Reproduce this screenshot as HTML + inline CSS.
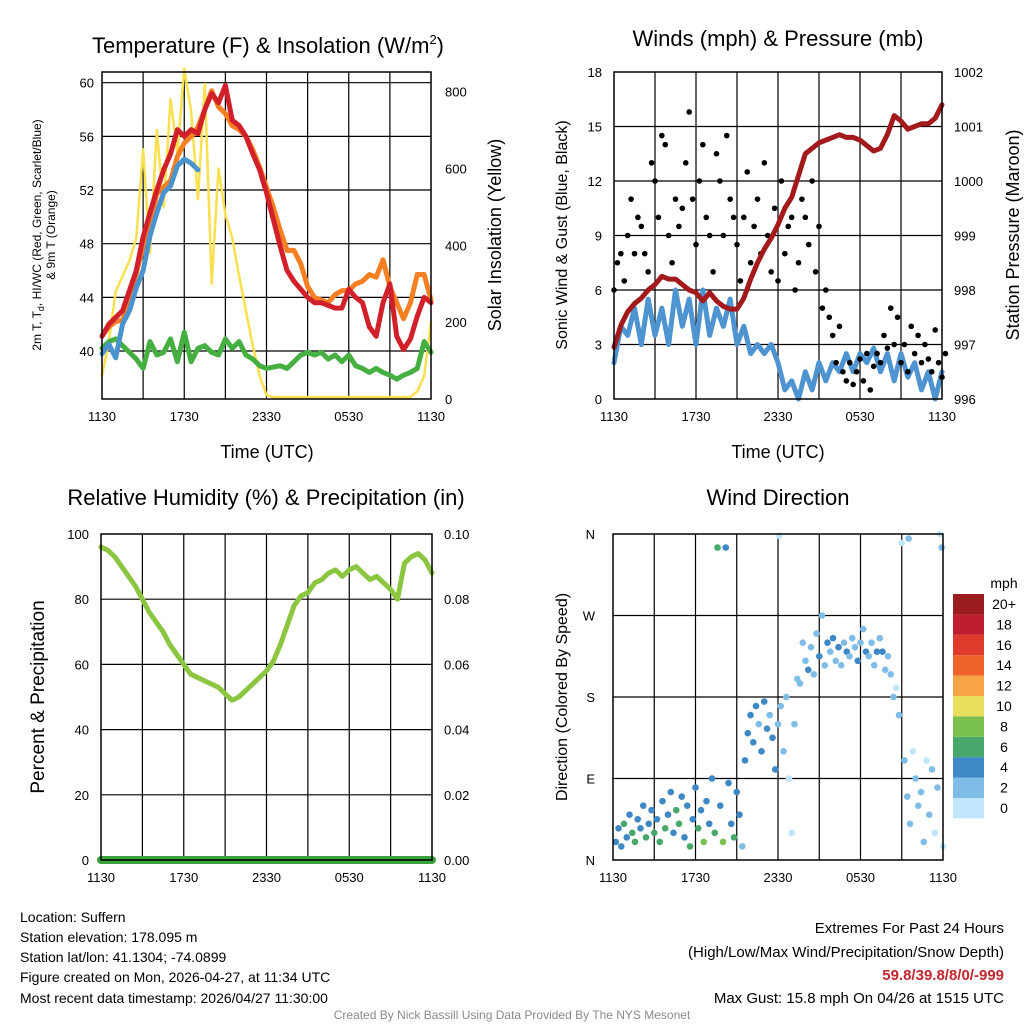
<!DOCTYPE html>
<html><head><meta charset="utf-8"><style>
body{margin:0;background:#fff}
svg{display:block;font-family:"Liberation Sans",sans-serif}
</style></head><body>
<svg id="c" width="1024" height="1024" viewBox="0 0 1024 1024">
<g font-size="22" text-anchor="middle" fill="#000">
<text x="268" y="53">Temperature (F) &amp; Insolation (W/m<tspan font-size="13" dy="-9">2</tspan><tspan dy="9">)</tspan></text>
<text x="778" y="46">Winds (mph) &amp; Pressure (mb)</text>
<text x="266" y="505">Relative Humidity (%) &amp; Precipitation (in)</text>
<text x="778" y="505">Wind Direction</text>
</g>
<g font-size="18" text-anchor="middle">
<text x="267" y="458">Time (UTC)</text>
<text x="778" y="458">Time (UTC)</text>
<text transform="translate(501,235) rotate(-90)">Solar Insolation (Yellow)</text>
<text transform="translate(1019,235) rotate(-90)">Station Pressure (Maroon)</text>
<text transform="translate(44,697) rotate(-90)" font-size="19">Percent &amp; Precipitation</text>
<text transform="translate(567,235) rotate(-90)" font-size="16">Sonic Wind &amp; Gust (Blue, Black)</text>
<text transform="translate(567,697) rotate(-90)" font-size="16">Direction (Colored By Speed)</text>
</g>
<g font-size="12" text-anchor="middle">
<text transform="translate(41,235) rotate(-90)">2m T, T<tspan font-size="9" dy="3">d</tspan><tspan dy="-3">, HI/WC (Red, Green, Scarlet/Blue)</tspan></text>
<text transform="translate(55,235) rotate(-90)">&amp; 9m T (Orange)</text>
</g>
<g font-size="14" fill="#000">
<text x="20" y="922">Location: Suffern</text>
<text x="20" y="942">Station elevation: 178.095 m</text>
<text x="20" y="962">Station lat/lon: 41.1304; -74.0899</text>
<text x="20" y="982">Figure created on Mon, 2026-04-27, at 11:34 UTC</text>
<text x="20" y="1003">Most recent data timestamp: 2026/04/27 11:30:00</text>
</g>
<g font-size="15" text-anchor="end">
<text x="1004" y="933">Extremes For Past 24 Hours</text>
<text x="1004" y="957">(High/Low/Max Wind/Precipitation/Snow Depth)</text>
<text x="1004" y="980" fill="#c1272d" font-weight="bold">59.8/39.8/8/0/-999</text>
<text x="1004" y="1003">Max Gust: 15.8 mph On 04/26 at 1515 UTC</text>
</g>
<text x="512" y="1019" font-size="12" fill="#8a8a8a" text-anchor="middle">Created By Nick Bassill Using Data Provided By The NYS Mesonet</text>
</svg>
<script>
const xTickLabels=["1130","1730","2330","0530","1130"];
const tempT=[41.1,42,42.5,43,44.5,46,48.5,50.3,52,53.5,54.7,56.5,56,56.5,56.2,58,59.2,58.5,59.8,57.2,56.8,56,54.7,53.5,51.8,49.8,47.8,46,45.2,44.6,44,43.6,43.6,43.4,43.2,43.2,44.6,44,43.6,41.8,41.1,43.6,45,41.1,40.1,40.9,42.6,44,43.6];
const temp9m=[41.1,41.8,42.2,42.3,43.5,45.8,47.8,49.5,51.7,52.2,52.7,54.5,55.5,56,56.7,58,59.4,58.2,57.7,56.8,56.5,56,55,53.7,52.2,50.7,49,47.5,47.5,46.5,44.8,44,43.8,43.6,44.2,44.5,44.5,45,45.2,45.7,45.5,46.8,44.8,43.6,42.4,43.6,45.7,45.7,43.8];
const tempHI=[39.8,40.5,39.5,42,43,44.7,46,48.6,50.3,51.8,52.3,53.8,54.3,54,53.5];
const tempTd=[40.2,40.7,40.9,40.4,39.9,39.4,38.7,40.7,39.7,39.9,40.9,39.2,41.4,39.2,40.2,40.4,39.9,39.7,40.9,40.2,40.7,39.7,39.4,38.9,38.7,38.8,38.9,38.7,39.2,39.7,39.9,39.7,39.9,39.4,39.7,39.2,39.7,38.9,38.7,38.4,38.7,38.4,38.2,37.9,38.2,38.4,38.7,40.7,39.9];
const solar=[60,150,280,320,360,420,650,380,700,500,780,640,860,750,520,820,300,600,480,420,320,230,140,60,10,5,5,5,5,5,5,5,5,5,5,5,5,5,5,5,5,5,5,5,5,5,20,60,200];
const wind=[2,4,3.5,5,3,5.5,3.5,5,3,6,4,5.5,3,6,3.5,5,4,5.5,3,4,2.5,3,2.5,3,2,0.5,1,0,1.5,0.5,2,1,2,1.5,2.5,1.5,2.5,2,2.8,1.5,2.5,1,2.5,1.2,2,0.5,1.5,0,1.5];
const pressure=[996.95,997.35,997.6,997.75,997.85,998,998.1,998.25,998.2,998.2,998.1,998,997.95,997.8,997.95,997.8,997.7,997.65,997.65,997.85,998.2,998.5,998.75,998.95,999.2,999.5,999.7,1000.1,1000.5,1000.6,1000.7,1000.75,1000.8,1000.85,1000.8,1000.8,1000.75,1000.65,1000.55,1000.6,1000.85,1001.2,1001.1,1000.95,1001,1001.05,1001.05,1001.15,1001.4];
const gust=[6,7.5,8,6.5,9,11,8,10,9.5,8,7,13,12,10,14.5,14,9,7.5,11,9.5,10.5,13,15.8,11,8.5,12,14,10,9,7,13.5,12,9,14.5,11,10,8.5,6.5,10,12.5,7.5,9.5,11,8,13,9,7,10.5,6.5,12,8,9.5,10,6,7.5,11,10,8.5,12,7,9.5,5,6,4.5,3.5,2,4,1.5,1,2,0.8,1.5,2.2,1,2.5,0.5,1.8,2.5,2,3.5,2.8,5,3,4.5,2,3,1.5,4,2.5,3.5,2,3,2.2,1.5,3.8,2,1.2,2.5];
const rh=[96,95,93,90,87,84,80,76,73,70,66,63,60,57,56,55,54,53,51,49,50,52,54,56,58,61,66,72,78,81,82,85,86,88,89,87,89,90,88,86,87,85,83,80,91,93,94,92,88];
const precip=new Array(49).fill(0);
const dirHour=[0.2,0.4,0.6,0.8,1,1.2,1.4,1.6,1.8,2,2.2,2.4,2.6,2.8,3,3.2,3.4,3.6,3.8,4,4.2,4.4,4.6,4.8,5,5.2,5.4,5.6,5.8,6,6.2,6.4,6.6,6.8,7,7.2,7.4,7.6,7.8,8,8.2,8.4,8.6,8.8,9,9.2,9.4,9.6,9.8,10,10.2,10.4,10.6,10.8,11,11.2,11.4,11.6,11.8,12,12.2,12.4,12.6,12.8,13,13.2,13.4,13.6,13.8,14,14.2,14.4,14.6,14.8,15,15.2,15.4,15.6,15.8,16,16.2,16.4,16.6,16.8,17,17.2,17.4,17.6,17.8,18,18.2,18.4,18.6,18.8,19,19.2,19.4,19.6,19.8,20,20.2,20.4,20.6,20.8,21,21.2,21.4,21.6,21.8,22,22.2,22.4,22.6,22.8,23,23.2,23.4,23.6,23.8,24,12.1,21.5,23.9];
const dirDeg=[20,35,15,40,25,50,30,20,45,35,60,25,40,55,30,45,20,65,35,50,75,30,55,40,70,25,60,15,45,80,35,55,20,65,40,90,30,345,60,20,345,85,40,25,75,50,15,110,140,160,130,170,150,120,175,145,160,135,100,150,170,120,180,90,30,150,200,195,240,220,210,235,205,250,225,270,215,240,230,245,220,235,215,240,230,225,245,235,220,240,255,230,225,240,215,230,245,230,210,225,205,180,190,160,350,110,70,40,120,90,60,75,20,110,50,100,30,80,360,15,358,355,345];
const dirSpeed=[4,4,3,5,3,4,6,6,4,3,4,5,4,3,6,4,5,3,6,4,3,4,5,6,4,3,4,6,3,4,5,3,7,4,4,3,5,6,4,7,4,3,4,6,3,4,2,4,3,4,3,4,2,4,3,4,2,4,3,1,2,1,2,0,0,1,2,1,2,1,3,2,1,2,3,1,2,3,2,3,2,3,2,1,3,2,1,2,3,2,2,3,2,1,2,3,2,3,2,2,1,1,0,1,0,1,1,2,0,1,2,1,1,0,2,1,0,1,0,0,0,1,1];
const cbLabels=["0","2","4","6","8","10","12","14","16","18","20+"];
const cbColors=["#bfe6fb","#80bde6","#3d88c5","#48a86b","#79c04f","#e8e05c","#f7a546","#f0632a","#e03a2c","#be1e2d","#9b1c1f"];
const NS="http://www.w3.org/2000/svg";
const svg=document.getElementById('c');
function mk(tag,attrs,parent){const e=document.createElementNS(NS,tag);for(const k in attrs)e.setAttribute(k,attrs[k]);(parent||svg).appendChild(e);return e;}
function lin(d0,d1,r0,r1){return v=>r0+(v-d0)/(d1-d0)*(r1-r0);}
function txt(x,y,s,anchor,size,parent){const t=mk('text',{x:x,y:y,'text-anchor':anchor,'font-size':size},parent);t.textContent=s;return t;}
function panel(name,x0,x1,y0,y1,hLines){
  const g=mk('g',{});
  
  
  for(let i=1;i<8;i++){const x=x0+(x1-x0)*i/8;mk('line',{x1:x,x2:x,y1:y0,y2:y1,stroke:'#000','stroke-width':1.2},g);}
  hLines.forEach(y=>mk('line',{x1:x0,x2:x1,y1:y,y2:y,stroke:'#000','stroke-width':1.2},g));
  const lab=mk('g',{});
  
  
  xTickLabels.forEach((s,i)=>txt(x0+(x1-x0)*i/4,y1+22,s,'middle',13,lab));
  return g;
}
function border(x0,x1,y0,y1){mk('rect',{x:x0,y:y0,width:x1-x0,height:y1-y0,fill:'none',stroke:'#000','stroke-width':1.5});}
function yLabels(name,vals,sc,x,anchor){const g=mk('g',{});
  
  
  vals.forEach(v=>txt(x,sc(v[0])+5,v[1],anchor,13,g));}
function line(name,arr,xs,ys,color,w,n){
  const pts=arr.map((v,i)=>xs(i*(n||48)/(48))+','+ys(v)).join(' ');
  const p=mk('polyline',{points:pts,fill:'none',stroke:color,'stroke-width':w,'stroke-linejoin':'round','stroke-linecap':'round'});
  
  
}
// Panel 1
{const x0=102,x1=431,y0=72,y1=399;
 const xs=lin(0,48,x0,x1), yl=lin(40,60,351,82.7), yr=lin(0,800,399,91.7);
 panel('temperature',x0,x1,y0,y1,[40,44,48,52,56,60].map(yl));
 yLabels('temp-left-tick-labels',[[40,'40'],[44,'44'],[48,'48'],[52,'52'],[56,'56'],[60,'60']],yl,x0-8,'end');
 yLabels('temp-right-tick-labels',[[0,'0'],[200,'200'],[400,'400'],[600,'600'],[800,'800']],yr,x1+14,'start');
 line('solar-insolation-line',solar,xs,yr,'#f9e04f',2.5);
 line('dewpoint-line',tempTd,xs,yl,'#45b041',5);
 line('temp-9m-line',temp9m,xs,yl,'#f58024',5);
 line('heat-index-line',tempHI,xs,yl,'#4b93cf',5);
 line('temp-2m-line',tempT,xs,yl,'#d2202a',5);
 border(x0,x1,y0,y1);}
// Panel 2
{const x0=614,x1=942,y0=72,y1=399;
 const xs=lin(0,48,x0,x1), yl=lin(0,18,399,72), yr=lin(996,1002,399,72);
 panel('winds',x0,x1,y0,y1,[3,6,9,12,15].map(yl));
 yLabels('wind-left-tick-labels',[0,3,6,9,12,15,18].map(v=>[v,String(v)]),yl,x0-12,'end');
 yLabels('pressure-right-tick-labels',[996,997,998,999,1000,1001,1002].map(v=>[v,String(v)]),yr,x1+12,'start');
 line('sonic-wind-line',wind,xs,yl,'#4d94d0',5);
 const gg=mk('g',{});
 
 
 const xg=lin(0,96,x0,x1);
 gust.forEach((v,i)=>{const c=mk('circle',{cx:xg(i),cy:yl(v),r:2.8,fill:'#000'},gg);
   
   });
 line('pressure-line',pressure,xs,yr,'#a31a1c',5);
 border(x0,x1,y0,y1);}
// Panel 3
{const x0=101,x1=432,y0=534,y1=860;
 const xs=lin(0,48,x0,x1), yl=lin(0,100,860,534), yr=lin(0,0.1,860,534);
 panel('humidity',x0,x1,y0,y1,[20,40,60,80].map(yl));
 yLabels('humidity-left-tick-labels',[0,20,40,60,80,100].map(v=>[v,String(v)]),yl,x0-12,'end');
 yLabels('precip-right-tick-labels',[0,0.02,0.04,0.06,0.08,0.1].map(v=>[v,v.toFixed(2)]),yr,x1+12,'start');
 line('precipitation-line',precip,xs,yr,'#3aa23a',8);
 line('relative-humidity-line',rh,xs,yl,'#8cc640',5);
 border(x0,x1,y0,y1);}
// Panel 4
{const x0=613,x1=943,y0=534,y1=860;
 const xs=lin(0,24,x0,x1), yd=lin(0,360,860,534);
 panel('direction',x0,x1,y0,y1,[90,180,270].map(yd));
 yLabels('direction-tick-labels',[[0,'N'],[90,'E'],[180,'S'],[270,'W'],[360,'N']],yd,x0-18,'end');
 const dg=mk('g',{});
 
 
 dirHour.forEach((h,i)=>{const ci=Math.min(10,Math.round(dirSpeed[i]/2));
   const c=mk('circle',{cx:xs(h),cy:yd(dirDeg[i]),r:3.3,fill:cbColors[ci]},dg);
   
   });
 border(x0,x1,y0,y1);
 const cb=mk('g',{});
 
 
 txt(1004,588,'mph','middle',14,cb);
 cbLabels.forEach((s,i)=>{const y=798-i*20.4;
   mk('rect',{x:953,y:y,width:31,height:20.4,fill:cbColors[i]},cb);
   txt(1004,y+15,s,'middle',14,cb);});}
</script>
</body></html>
